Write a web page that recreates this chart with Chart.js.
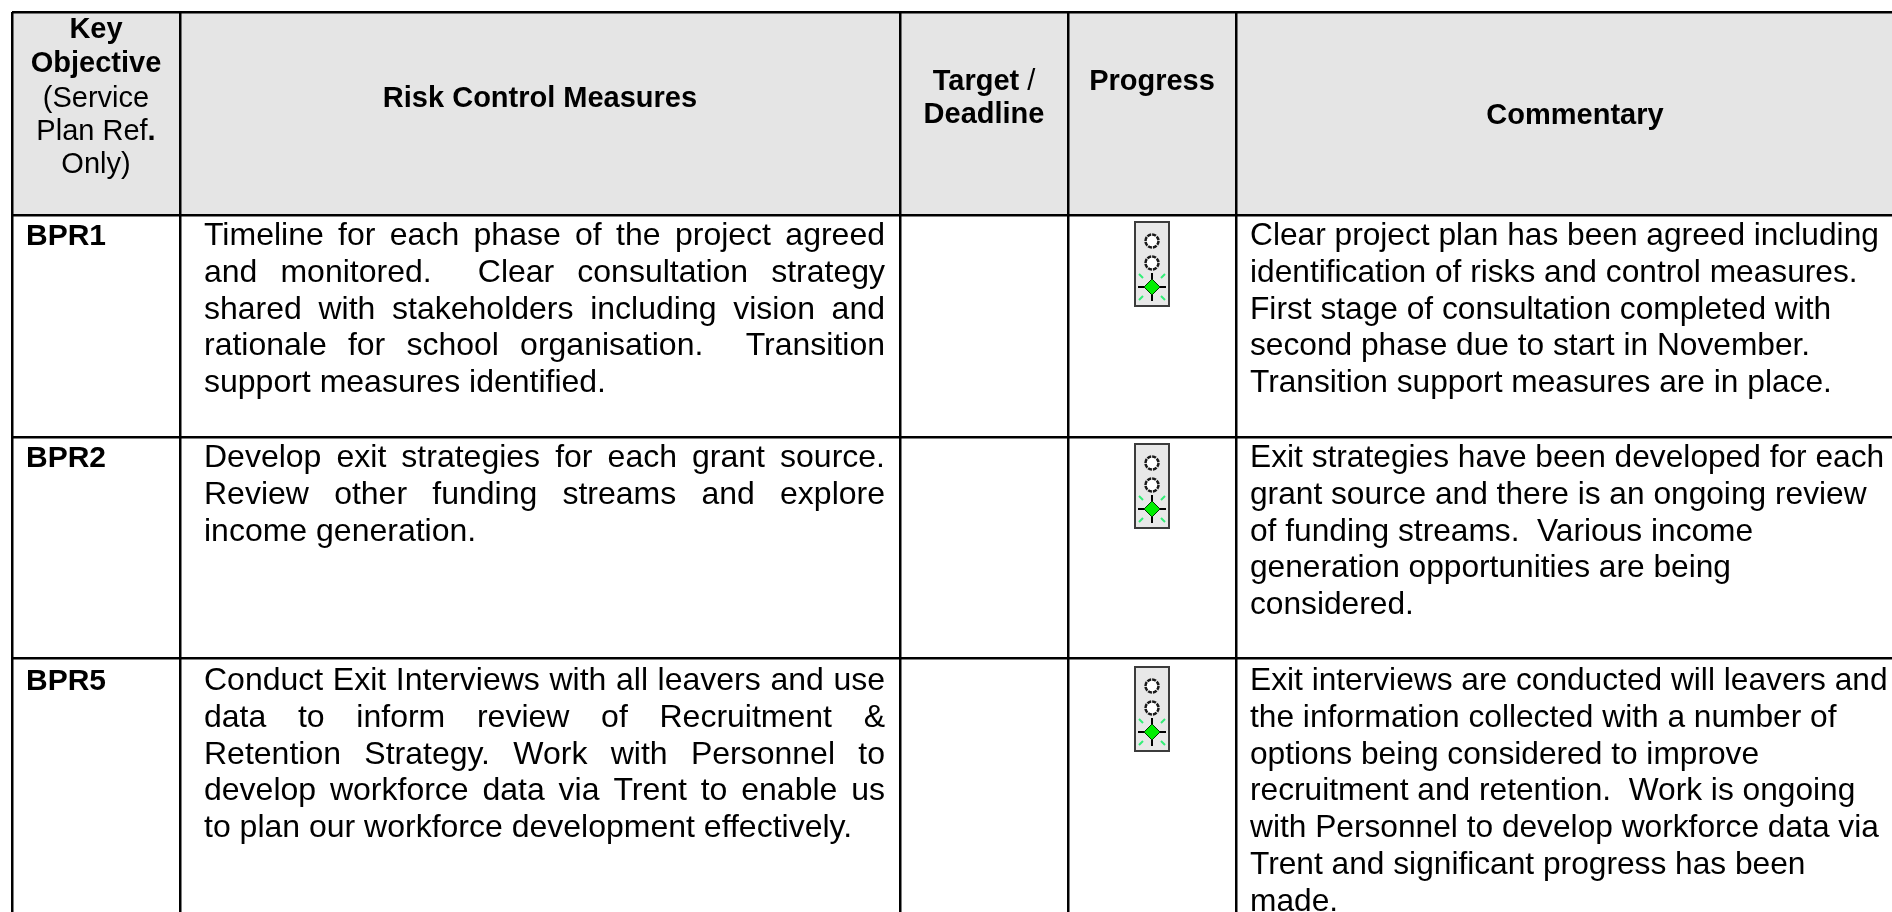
<!DOCTYPE html>
<html>
<head>
<meta charset="utf-8">
<title>Risk Control Measures</title>
<script src="https://cdn.jsdelivr.net/npm/chart.js@4/dist/chart.umd.min.js"></script>
<style>
    html, body { margin: 0; padding: 0; background: #ffffff; overflow: hidden; }
    canvas { display: block; }
</style>
</head>
<body>
<canvas id="tableChart" width="1892" height="912"></canvas>
<script>
// Table content, top to bottom
const keyObjectives = ['BPR1', 'BPR2', 'BPR5'];
const progressLights = ['green', 'green', 'green'];

const keyObjectiveHeader = ['Key', 'Objective', '(Service', 'Plan Ref.', 'Only)'];
const measureHeader = 'Risk Control Measures';
const targetHeader = ['Target /', 'Deadline'];
const progressHeader = 'Progress';
const commentaryHeader = 'Commentary';

const riskMeasures = [
    ['Timeline for each phase of the project agreed',
     'and monitored.  Clear consultation strategy',
     'shared with stakeholders including vision and',
     'rationale for school organisation.  Transition',
     'support measures identified.'],
    ['Develop exit strategies for each grant source.',
     'Review other funding streams and explore',
     'income generation.'],
    ['Conduct Exit Interviews with all leavers and use',
     'data to inform review of Recruitment &',
     'Retention Strategy. Work with Personnel to',
     'develop workforce data via Trent to enable us',
     'to plan our workforce development effectively.']
];

const commentary = [
    ['Clear project plan has been agreed including',
     'identification of risks and control measures.',
     'First stage of consultation completed with',
     'second phase due to start in November.',
     'Transition support measures are in place.'],
    ['Exit strategies have been developed for each',
     'grant source and there is an ongoing review',
     'of funding streams.  Various income',
     'generation opportunities are being',
     'considered.'],
    ['Exit interviews are conducted will leavers and',
     'the information collected with a number of',
     'options being considered to improve',
     'recruitment and retention.  Work is ongoing',
     'with Personnel to develop workforce data via',
     'Trent and significant progress has been',
     'made.']
];

// Layout of the table, in page pixels
const columnEdges = [12, 180, 900, 1068, 1236];
const rowEdges = [12, 215, 437, 658];
const rowBaselines = [245, 467, 690];
const FONT = '"Liberation Sans", Arial, sans-serif';
const HEAD_SIZE = 29;
const LABEL_SIZE = 30;
const MEASURE_SIZE = 32;
const COMMENT_SIZE = 31.7;
const BODY_LINE = 36.8;

function makeLightIcon() {
    const c = document.createElement('canvas');
    c.width = 38;
    c.height = 88;
    const g = c.getContext('2d');
    g.fillStyle = '#e8e8e8';
    g.fillRect(1, 1, 36, 86);
    g.strokeStyle = '#3c3c3c';
    g.lineWidth = 2;
    g.strokeRect(2, 2, 34, 84);

    [21, 43].forEach(y => {
        g.beginPath();
        g.arc(19, y, 6.5, 0, Math.PI * 2);
        g.fillStyle = '#ffffff';
        g.fill();
        g.strokeStyle = '#1a1a1a';
        g.lineWidth = 2.5;
        g.setLineDash([4, 1]);
        g.stroke();
        g.setLineDash([]);
    });

    const cy = 67;
    g.strokeStyle = '#33ee77';
    g.lineWidth = 2;
    g.beginPath();
    [[-1, -1], [1, -1], [-1, 1], [1, 1]].forEach(d => {
        g.moveTo(19 + d[0] * 9, cy + d[1] * 9);
        g.lineTo(19 + d[0] * 13, cy + d[1] * 13);
    });
    g.stroke();
    g.strokeStyle = '#000000';
    g.lineWidth = 2;
    g.beginPath();
    g.moveTo(5, cy); g.lineTo(33, cy);
    g.moveTo(19, cy - 14); g.lineTo(19, cy + 14);
    g.stroke();
    g.fillStyle = '#00ee00';
    g.strokeStyle = '#003300';
    g.lineWidth = 1;
    g.beginPath();
    g.moveTo(19, cy - 8); g.lineTo(27, cy); g.lineTo(19, cy + 8); g.lineTo(11, cy);
    g.closePath();
    g.fill();
    g.stroke();
    return c;
}

// One line of text, optionally stretched to a given width
function textLine(ctx, str, x, y, size, bold, fitWidth) {
    ctx.font = (bold ? 'bold ' : '') + size + 'px ' + FONT;
    ctx.wordSpacing = '0px';
    if (fitWidth) {
        const gaps = str.split(' ').length - 1;
        ctx.wordSpacing = ((fitWidth - ctx.measureText(str).width) / gaps) + 'px';
    }
    ctx.fillText(str, x, y);
    ctx.wordSpacing = '0px';
}

// Centred line made of runs of [text, bold]
function centerRuns(ctx, runs, cx, y, size) {
    let total = 0;
    runs.forEach(r => {
        ctx.font = (r[1] ? 'bold ' : '') + size + 'px ' + FONT;
        total += ctx.measureText(r[0]).width;
    });
    let left = cx - total / 2;
    runs.forEach(r => {
        ctx.font = (r[1] ? 'bold ' : '') + size + 'px ' + FONT;
        ctx.fillText(r[0], left, y);
        left += ctx.measureText(r[0]).width;
    });
}

const headerFill = {
    id: 'headerFill',
    beforeDraw(chart) {
        const { x, y } = chart.scales;
        chart.ctx.save();
        chart.ctx.fillStyle = '#e5e5e5';
        chart.ctx.fillRect(x.getPixelForValue(columnEdges[0]), y.getPixelForValue(rowEdges[0]),
            x.right - x.left, y.getPixelForValue(rowEdges[1]) - y.getPixelForValue(rowEdges[0]));
        chart.ctx.restore();
    }
};

const tableText = {
    id: 'tableText',
    afterDatasetsDraw(chart) {
        const ctx = chart.ctx;
        const { x, y } = chart.scales;
        const px = v => x.getPixelForValue(v);
        const py = v => y.getPixelForValue(v);
        ctx.save();
        ctx.fillStyle = '#000000';
        ctx.textBaseline = 'alphabetic';

        // Header row
        const col1 = px(96);
        const keyBase = [38, 72, 107, 140, 173];
        keyObjectiveHeader.forEach((line, i) => {
            let runs = [[line, i < 2]];
            if (line === 'Plan Ref.') runs = [[line.slice(0, -1), false], [line.slice(-1), true]];
            centerRuns(ctx, runs, col1, py(keyBase[i]), HEAD_SIZE);
        });
        centerRuns(ctx, [[measureHeader, true]], px(540), py(107), HEAD_SIZE);
        centerRuns(ctx, [[targetHeader[0].slice(0, 6), true], [targetHeader[0].slice(6), false]], px(984), py(90), HEAD_SIZE);
        centerRuns(ctx, [[targetHeader[1], true]], px(984), py(123), HEAD_SIZE);
        centerRuns(ctx, [[progressHeader, true]], px(1152), py(90), HEAD_SIZE);
        centerRuns(ctx, [[commentaryHeader, true]], px(1575), py(124), HEAD_SIZE);

        // Body rows
        keyObjectives.forEach((label, r) => {
            const base = rowBaselines[r];
            textLine(ctx, label, px(26), py(base), LABEL_SIZE, true);
            riskMeasures[r].forEach((line, i) => {
                const last = i === riskMeasures[r].length - 1;
                textLine(ctx, line, px(204), py(base + i * BODY_LINE), MEASURE_SIZE, false, last ? 0 : 681);
            });
            commentary[r].forEach((line, i) => {
                textLine(ctx, line, px(1250), py(base + i * BODY_LINE), COMMENT_SIZE, false);
            });
        });
        ctx.restore();
    }
};

const lightIcon = makeLightIcon();
const iconCenter = (columnEdges[3] + columnEdges[4]) / 2;
const iconOffset = 19;

new Chart(document.getElementById('tableChart'), {
    type: 'scatter',
    data: {
        datasets: [{
            label: 'Progress',
            data: progressLights.map((status, r) => ({ x: iconCenter, y: rowBaselines[r] + iconOffset })),
            pointStyle: lightIcon,
            pointRadius: 20
        }]
    },
    options: {
        responsive: false,
        animation: false,
        layout: { autoPadding: false, padding: { left: 12, top: 12, right: 0, bottom: 0 } },
        plugins: {
            legend: { display: false },
            tooltip: { enabled: false }
        },
        scales: {
            x: {
                type: 'linear',
                min: 12,
                max: 1892,
                afterBuildTicks: scale => { scale.ticks = columnEdges.map(v => ({ value: v })); },
                ticks: { display: false },
                border: { display: false },
                grid: { color: '#000000', lineWidth: 2.5, drawTicks: false }
            },
            y: {
                type: 'linear',
                reverse: true,
                min: 12,
                max: 912,
                afterBuildTicks: scale => { scale.ticks = rowEdges.map(v => ({ value: v })); },
                ticks: { display: false },
                border: { display: false },
                grid: { color: '#000000', lineWidth: 2.5, drawTicks: false }
            }
        }
    },
    plugins: [headerFill, tableText]
});
</script>
</body>
</html>
